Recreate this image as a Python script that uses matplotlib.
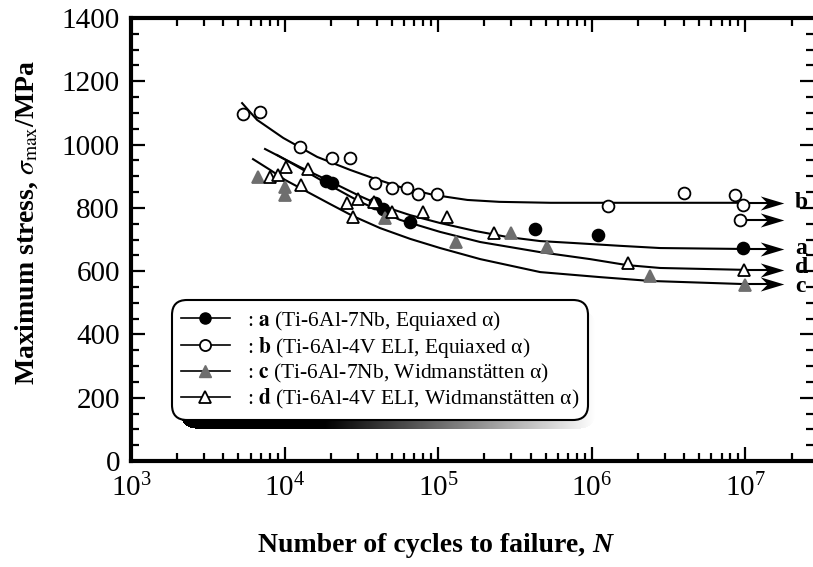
import numpy as np
import matplotlib
matplotlib.use("Agg")
import matplotlib.pyplot as plt
from matplotlib.lines import Line2D
from matplotlib.path import Path
from matplotlib.ticker import LogLocator, MultipleLocator, NullFormatter

plt.rcParams['font.family'] = ['Liberation Serif', 'DejaVu Serif']
plt.rcParams['mathtext.fontset'] = 'stix'

# fatigue test results: cycles to failure and maximum stress (MPa)
a_n = [1.85e4, 2.05e4, 3.9e4, 4.4e4, 6.6e4, 4.3e5, 1.1e6, 9.6e6]
a_s = [885, 878, 815, 795, 755, 733, 714, 673]
b_n = [5.4e3, 6.9e3, 1.26e4, 2.04e4, 2.67e4, 3.9e4, 5.0e4, 6.3e4, 7.4e4, 9.8e4,
       1.28e6, 4.0e6, 8.6e6, 9.7e6, 9.3e6]
b_s = [1097, 1103, 992, 958, 958, 879, 863, 863, 844, 844,
       806, 847, 841, 809, 762]
c_n = [6.7e3, 1.0e4, 1.0e4, 4.5e4, 1.3e5, 3.0e5, 5.1e5, 2.4e6, 1.0e7]
c_s = [897, 865, 840, 768, 692, 720, 676, 585, 556]
d_n = [8.05e3, 9.1e3, 1.02e4, 1.28e4, 1.42e4, 2.55e4, 2.8e4, 3.0e4, 3.8e4, 5.0e4,
       8.0e4, 1.15e5, 2.3e5, 1.73e6, 9.85e6]
d_s = [897, 904, 929, 872, 923, 815, 771, 828, 818, 787,
       787, 770, 720, 626, 604]

# S-N curves
curve_a_n = [7.46e3, 1.26e4, 2.01e4, 3.1e4, 4.32e4, 6.57e4, 1.03e5, 1.74e5, 2.82e5,
             4.62e5, 7.57e5, 1.53e6, 2.79e6, 1.0e7]
curve_a_s = [986, 929, 882, 837, 806, 777, 752, 727, 708, 695, 689, 680, 673, 670]
curve_b_n = [5.29e3, 6.62e3, 9.8e3, 1.63e4, 2.67e4, 3.77e4, 5.65e4, 9.3e4, 1.55e5,
             2.5e5, 5.4e5, 1.28e6, 3.8e6, 1.0e7]
curve_b_s = [1131, 1078, 1021, 961, 920, 894, 866, 841, 825, 819, 816, 816, 816, 816]
curve_c_n = [6.23e3, 8.05e3, 1.01e4, 1.26e4, 1.98e4, 2.79e4, 4.19e4, 6.57e4, 1.03e5,
             1.88e5, 4.62e5, 1.14e6, 2.41e6, 1.0e7]
curve_c_s = [954, 920, 888, 863, 812, 774, 736, 702, 673, 638, 597, 581, 569, 559]
curve_d_n = [8.93e3, 1.26e4, 2.01e4, 3.1e4, 5.65e4, 1.03e5, 1.88e5, 4.62e5, 9.77e5,
             1.7e6, 2.79e6, 1.0e7]
curve_d_s = [967, 926, 869, 819, 762, 724, 692, 660, 638, 619, 610, 604]

# run-outs (no failure): start of arrow, stress
runout_n = [1.0e7, 9.3e6, 1.0e7, 1.0e7, 1.0e7]
runout_s = [816, 762, 670, 604, 559]

# curve letters at the right edge
letter = ['b', 'a', 'd', 'c']
letter_s = [816, 673, 612, 550]

legend_labels = [
    r': $\mathbf{a}$ (Ti-6Al-7Nb, Equiaxed α)',
    r': $\mathbf{b}$ (Ti-6Al-4V ELI, Equiaxed α)',
    r': $\mathbf{c}$ (Ti-6Al-7Nb, Widmanstätten α)',
    r': $\mathbf{d}$ (Ti-6Al-4V ELI, Widmanstätten α)',
]

gray = '#6e6e6e'

fig = plt.figure(figsize=(8.13, 5.67), dpi=100)
ax = fig.add_axes([131 / 813, 1 - 461 / 567, (814 - 131) / 813, 443 / 567])

for cn, cs in [(curve_a_n, curve_a_s), (curve_b_n, curve_b_s),
               (curve_c_n, curve_c_s), (curve_d_n, curve_d_s)]:
    ax.plot(cn, cs, color='k', lw=1.5, zorder=2)

# arrowhead shape for run-outs
head = Path([(1, 0), (-1, 0.6), (-0.4, 0), (-1, -0.6), (1, 0)],
            [Path.MOVETO, Path.LINETO, Path.LINETO, Path.LINETO, Path.CLOSEPOLY])
for n0, s in zip(runout_n, runout_s):
    ax.plot([n0, 1.5e7], [s, s], color='k', lw=1.5, zorder=2)
    ax.plot([1.5e7], [s], marker=head, ms=17, color='k', mew=0, zorder=3)
for lbl, s in zip(letter, letter_s):
    ax.text(2.1e7, s, lbl, fontsize=17, fontweight='bold', va='center', ha='left')

mk = dict(ms=8.5, mew=1.3, ls='none', zorder=4)
ax.plot(a_n, a_s, marker='o', mfc='k', mec='k', **mk)
ax.plot(b_n, b_s, marker='o', mfc='white', mec='k', **mk)
ax.plot(c_n, c_s, marker='^', mfc=gray, mec=gray, **mk)
ax.plot(d_n, d_s, marker='^', mfc='white', mec='k', **mk)

ax.set_xscale('log')
ax.set_xlim(1e3, 2.8e7)
ax.set_ylim(0, 1400)
ax.xaxis.set_major_locator(LogLocator(base=10, numticks=10))
ax.xaxis.set_minor_locator(LogLocator(base=10, subs=np.arange(2, 10), numticks=40))
ax.xaxis.set_minor_formatter(NullFormatter())
ax.yaxis.set_major_locator(MultipleLocator(200))
ax.yaxis.set_minor_locator(MultipleLocator(50))
ax.tick_params(which='both', direction='in', top=True, right=True, width=1.6,
               labelsize=21)
ax.tick_params(which='major', length=10)
ax.tick_params(which='minor', length=6)
ax.tick_params(axis='x', pad=9)
ax.tick_params(axis='y', pad=8)
for sp in ax.spines.values():
    sp.set_linewidth(3)

fig.text(27 / 813, 1 - 222 / 567, r'Maximum stress, $\sigma_{\rm max}$/MPa',
         rotation=90, fontsize=20, fontweight='bold', ha='center', va='center')
xl = fig.text(258 / 813, 1 - 545 / 567, 'Number of cycles to failure, ',
              fontsize=20, fontweight='bold', ha='left', va='center')

handles = [
    Line2D([], [], color='k', lw=1.2, marker='o', mfc='k', mec='k', ms=8),
    Line2D([], [], color='k', lw=1.2, marker='o', mfc='white', mec='k', ms=8, mew=1.3),
    Line2D([], [], color='k', lw=1.2, marker='^', mfc=gray, mec=gray, ms=8),
    Line2D([], [], color='k', lw=1.2, marker='^', mfc='white', mec='k', ms=8, mew=1.3),
]
leg = fig.legend(handles, legend_labels, loc='upper left',
                 bbox_to_anchor=(172 / 813, 1 - 300 / 567), borderaxespad=0,
                 fontsize=15.5, handlelength=2.3, handletextpad=0.8, borderpad=0.4,
                 labelspacing=0.1, fancybox=True, framealpha=1, edgecolor='k')
leg.get_frame().set_linewidth(1.5)
leg.get_frame().set_boxstyle('round', pad=0, rounding_size=0.7)

fig.canvas.draw()
r = fig.canvas.get_renderer()

# italic N after the x label
bb = xl.get_window_extent(r)
fig.text(bb.x1 / 813, 1 - 545 / 567, 'N', fontsize=20, fontweight='bold',
         fontstyle='italic', ha='left', va='center')

# dark drop shadow fading to the right under the legend box
lb = leg.get_window_extent(r)
W, H = int(lb.width), int(lb.height)
rad = 15
yy, xx = np.mgrid[0:H, 0:W]
cx = np.clip(xx, rad, W - 1 - rad)
cy = np.clip(yy, rad, H - 1 - rad)
inside = (xx - cx) ** 2 + (yy - cy) ** 2 <= rad ** 2
frac = xx / W
alpha = np.clip((1 - frac) / 0.65, 0, 1)
shadow = np.zeros((H, W, 4))
shadow[..., 3] = alpha * inside
fig.figimage(shadow, xo=int(lb.x0) + 8, yo=int(lb.y0) - 9, zorder=1, origin='upper')

fig.savefig('out.png', dpi=100)
